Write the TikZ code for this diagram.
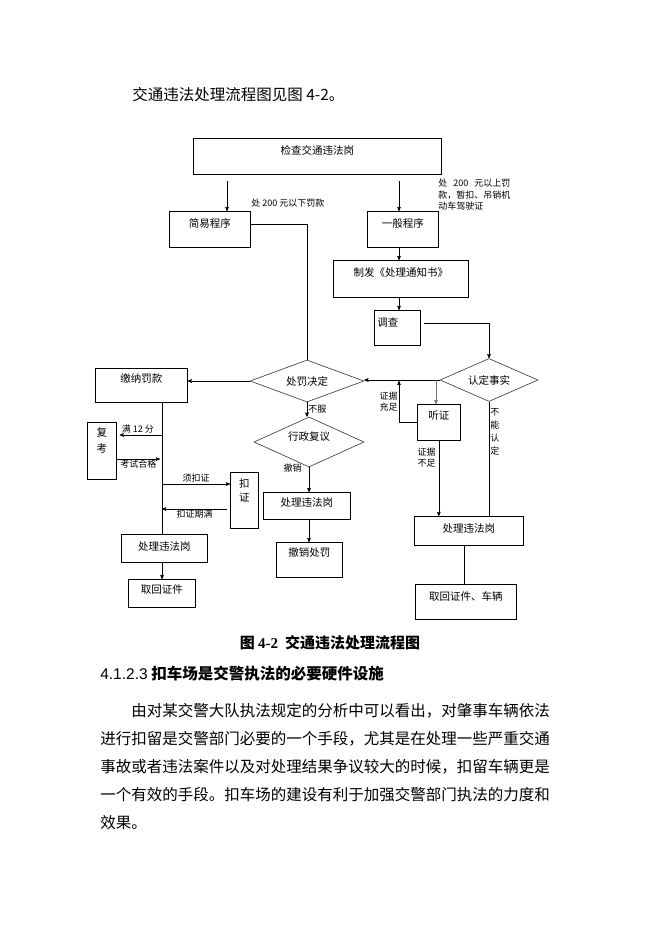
\documentclass[tikz,border=0pt]{standalone}
\usepackage{fontspec}
\setmainfont{Noto Sans CJK SC}
\newfontfamily\latinsans{Liberation Sans}
\newfontfamily\latinserif{Liberation Serif}
\usetikzlibrary{shapes.geometric,arrows,positioning}
\begin{document}
\begin{tikzpicture}[>=stealth',x=1pt,y=-1pt,semithick]
\tikzstyle{plain box}=[rectangle,draw,inner sep=0pt,anchor=north west,font=\fontsize{10.5}{12}\selectfont]
\tikzstyle{choice node}=[diamond,draw=black!80,aspect=2.5,inner sep=0pt,font=\fontsize{10.5}{12}\selectfont]

\tikzset{
	edge label/.style={font=\fontsize{9}{11}\selectfont,inner sep=1pt},
	body text/.style={anchor=base west,inner sep=0pt,font=\fontsize{15.5}{28}\selectfont},
	grey line/.style={draw=black!55}
}
\useasboundingbox (0,0) rectangle (662,936);

    \node[body text] (intro) at (132,101) {交通违法处理流程图见图 4-2。};

    \node[plain box,minimum width=248,text height=16,text depth=20] (check) at (193,138) {检查交通违法岗};
    \node[plain box,minimum width=81,text height=16,text depth=20] (simple) at (169,211) {简易程序};
    \node[plain box,minimum width=71,text height=16,text depth=20] (general) at (367,211) {一般程序};
    \node[plain box,minimum width=135,text height=16,text depth=21] (notice) at (333,260) {制发《处理通知书》};
    \node[plain box,text width=40,inner xsep=3pt,align=left,text height=16,text depth=19] (survey) at (374,310) {调查};
    \node[choice node,minimum width=114,minimum height=42] (punish) at (307,381) {处罚决定};
    \node[choice node,minimum width=98,minimum height=43] (fact) at (489,380) {认定事实};
    \node[choice node,minimum width=110,minimum height=50,text height=8,text depth=12] (review) at (309,442) {行政复议};
    \node[plain box,minimum width=43,text height=15,text depth=21] (hearing) at (417,404) {听证};
    \node[plain box,minimum width=92,text height=14,text depth=20] (pay) at (95,368) {缴纳罚款};
    \node[plain box,text width=29,align=center,font=\fontsize{10.5}{16}\selectfont,text height=14,text depth=43] (retest) at (87,422) {复\\考};
    \node[plain box,text width=28,align=center,font=\fontsize{10.5}{14}\selectfont,text height=15,text depth=41] (seize) at (230,472) {扣\\证};
    \node[plain box,minimum width=86,text height=16,text depth=12] (lhandle) at (121,534) {处理违法岗};
    \node[plain box,minimum width=67,text height=14,text depth=14] (lback) at (128,579) {取回证件};
    \node[plain box,minimum width=87,text height=14,text depth=13] (mhandle) at (263,492) {处理违法岗};
    \node[plain box,minimum width=66,text height=14,text depth=21] (revoke) at (276,542) {撤销处罚};
    \node[plain box,minimum width=109,text height=16,text depth=13] (rhandle) at (414,516) {处理违法岗};
    \node[plain box,minimum width=101,text height=16,text depth=19] (rback) at (415,584) {取回证件、车辆};

    \node[edge label,anchor=west] (lowfine) at (250,203) {处 200 元以下罚款};
    \node[edge label,anchor=north west,align=left,font=\fontsize{9}{11.5}\selectfont] (highfine) at (437,178)
        {处\hspace{6pt}200\hspace{6pt}元以上罚\\款，暂扣、吊销机\\动车驾驶证};

    \coordinate (leftdrop) at (227,181);
    \coordinate (rightdrop) at (399,181);
    \coordinate (spine) at (162,402);
    \coordinate (fork) at (436,380);
    \coordinate (enough) at (399,381);
    \coordinate (full) at (162,435);
    \coordinate (passed) at (160,459);
    \coordinate (need) at (162,484);
    \coordinate (expire) at (162,509);

    \path[->]   (leftdrop) edge (leftdrop |- simple.north)
                (rightdrop) edge (rightdrop |- general.north)
                (rightdrop |- general.south) edge (rightdrop |- notice.north)
                (rightdrop |- notice.south) edge (rightdrop |- survey.north)
                (fact.west) edge (fact.west -| punish.east)
                (punish.west) edge (punish.west -| pay.east)
                (punish.south) edge node[edge label,right,pos=0.45] {不服} (punish.south |- review.north)
                (review.south) edge node[edge label,left,pos=0.05,xshift=-6pt] {撤销} (review.south |- mhandle.north)
                (review.south |- mhandle.south) edge (review.south |- revoke.north)
                (hearing.south) edge node[edge label,left,align=left,pos=0.22,xshift=-2pt] {证据\\不足} (hearing.south |- rhandle.north)
                (spine |- lhandle.south) edge (spine |- lback.north)
                (full) edge node[edge label,above,pos=0.57] {满 12 分} ([xshift=3pt]full -| retest.east)
                (retest.east |- passed) edge node[edge label,below] {考试合格} (passed)
                (need) edge node[edge label,above] {须扣证} (need -| seize.west)
                ([xshift=-3pt]seize.west |- expire) edge node[edge label,below] {扣证期满} (expire)
;
    \draw ([yshift=5pt]simple.east) -| (punish.north);
    \draw[->] ([xshift=3pt,yshift=4.5pt]survey.east) -| (fact.north);
    \draw[->] (hearing.west) -| node[edge label,left,align=left,pos=0.75] {证据\\充足} (enough);
    \draw[->,grey line] (fork) -- (fork |- hearing.north);
    \draw (fact.south) -- node[edge label,right,align=center,font=\fontsize{9}{13}\selectfont,pos=0.26] {不\\能\\认\\定} (fact.south |- rhandle.north);
    \draw ([xshift=-4.5pt]rhandle.south) -- ([xshift=-4.5pt]rhandle.south |- rback.north);
    \draw (spine) -- (spine |- lhandle.north);

    \node[anchor=base,inner sep=0pt,font=\fontsize{15}{18}\selectfont\bfseries] (caption) at (330,648)
        {图 {\latinserif 4-2}\hspace{7pt}交通违法处理流程图};
    \node[body text,font=\fontsize{15.5}{28}\selectfont\bfseries] (section) at (100,679)
        {{\mdseries\latinsans 4.1.2.3} 扣车场是交警执法的必要硬件设施};
    \node[body text] (line1) at (131,716) {由对某交警大队执法规定的分析中可以看出，对肇事车辆依法};
    \node[body text] (line2) at (100,744) {进行扣留是交警部门必要的一个手段，尤其是在处理一些严重交通};
    \node[body text] (line3) at (100,772) {事故或者违法案件以及对处理结果争议较大的时候，扣留车辆更是};
    \node[body text] (line4) at (100,800) {一个有效的手段。扣车场的建设有利于加强交警部门执法的力度和};
    \node[body text] (line5) at (100,828) {效果。};
\end{tikzpicture}
\end{document}
